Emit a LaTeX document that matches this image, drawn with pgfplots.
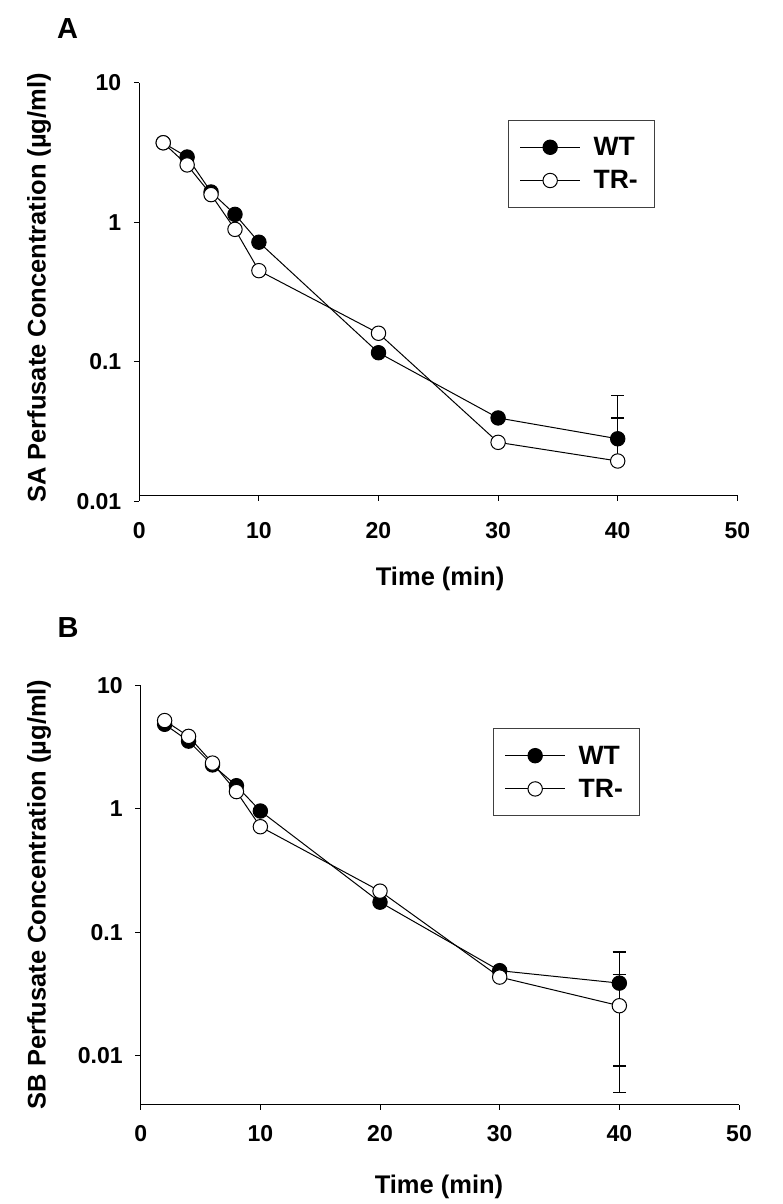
\documentclass[border=0pt]{standalone}
\usepackage{fontspec}
\setmainfont{Liberation Sans}
\usepackage{pgfplots}
\pgfplotsset{compat=1.18}
\pgfplotsset{
  myax/.style={
    scale only axis,
    xmin=0, xmax=50,
    axis x line*=bottom, axis y line*=left,
    axis line style={line width=1pt, black},
    xtick={0,10,20,30,40,50},
    ytick={0.01,0.1,1,10},
    yticklabels={0.01,0.1,1,10},
    tick align=outside,
    major tick length=5.5pt,
    minor tick length=0pt,
    major tick style={line width=1pt, black},
    ticklabel style={font=\fontsize{23}{23}\selectfont\bfseries},
    /pgf/number format/assume math mode=true,
    xticklabel style={yshift=-12pt},
    yticklabel style={xshift=-9pt},
    label style={font=\fontsize{25.5}{25.5}\selectfont\bfseries},
    legend cell align=left,
    legend style={anchor=north west, draw=black!75, line width=0.8pt,
      font=\fontsize{26.5}{26.5}\selectfont\bfseries,
      inner xsep=11pt, inner ysep=17pt, row sep=13.5pt, column sep=13pt,
      nodes={inner sep=0pt}},
    clip=false,
  },
  wt/.style={black, line width=1pt, mark=*, mark size=7.2pt, mark options={fill=black, solid, line width=1pt}},
  tr/.style={black, line width=1pt, mark=*, mark size=7.2pt, mark options={fill=white, solid, line width=1pt}},
  eb/.style={forget plot, mark=none, black,
    error bars/y explicit, error bars/y dir=#1,
    error bars/error bar style={line width=1.3pt, black, solid},
    error bars/error mark options={rotate=90, mark size=6.7pt, line width=1.3pt, black}},
}
\begin{document}
\begin{tikzpicture}
\useasboundingbox (0,0) rectangle (783pt,-1204pt);
% Panel A
\begin{axis}[myax, ymode=log, at={(139.3pt,-501.1pt)}, anchor=south west,
  width=598pt, height=418.2pt, ymin=0.01, ymax=10,
  axis x line shift=-6pt,
  xticklabel style={yshift=-6pt},
  xlabel={Time (min)},
  xlabel style={at={(axis description cs:0.503,-0.2009)}, anchor=base},
  ylabel={SA Perfusate Concentration (µg/ml)},
  ylabel style={at={(axis description cs:-0.1677,0.5096)}, anchor=center},
  legend style={at={(axis description cs:0.617,0.9113)}},
  legend image code/.code={\draw[mark repeat=2, mark phase=2, #1] plot coordinates {(0pt,0pt) (30pt,0pt) (60pt,0pt)};},
]
\addplot[eb=plus] coordinates {(40,0.028) +- (0,0.0293)};
\addplot[eb=plus] coordinates {(40,0.0194) +- (0,0.0201)};
\addplot[wt] coordinates {(2,3.72) (4,2.94) (6,1.65) (8,1.14) (10,0.72) (20,0.116) (30,0.0395) (40,0.028)};
\addlegendentry{\makebox[50pt][l]{WT}}
\addplot[tr] coordinates {(2,3.72) (4,2.58) (6,1.58) (8,0.89) (10,0.45) (20,0.16) (30,0.0264) (40,0.0194)};
\addlegendentry{\makebox[50pt][l]{TR-}}
\node[font=\fontsize{29}{29}\selectfont\bfseries, anchor=center] at (axis description cs:-0.120,1.130) {A};
\end{axis}
% Panel B
\begin{axis}[myax, ymode=log, at={(140.7pt,-1104.5pt)}, anchor=south west,
  width=598.3pt, height=419pt, ymin=0.004, ymax=10,
  xlabel={Time (min)},
  xlabel style={at={(axis description cs:0.4986,-0.2119)}, anchor=base},
  ylabel={SB Perfusate Concentration (µg/ml)},
  ylabel style={at={(axis description cs:-0.170,0.5014)}, anchor=center},
  legend style={at={(axis description cs:0.5893,0.8976)}},
  legend image code/.code={\draw[mark repeat=2, mark phase=2, #1] plot coordinates {(0pt,0pt) (30pt,0pt) (60pt,0pt)};},
]
\addplot[eb=both] coordinates {(40,0.0386) +- (0,0.0304)};
\addplot[eb=both] coordinates {(40,0.0253) +- (0,0.0203)};
\addplot[wt] coordinates {(2,4.85) (4,3.54) (6,2.27) (8,1.54) (10,0.96) (20,0.175) (30,0.0487) (40,0.0386)};
\addlegendentry{\makebox[50pt][l]{WT}}
\addplot[tr] coordinates {(2,5.2) (4,3.87) (6,2.35) (8,1.38) (10,0.716) (20,0.215) (30,0.0432) (40,0.0253)};
\addlegendentry{\makebox[50pt][l]{TR-}}
\node[font=\fontsize{29}{29}\selectfont\bfseries, anchor=center] at (axis description cs:-0.1215,1.1396) {B};
\end{axis}
\end{tikzpicture}
\end{document}
